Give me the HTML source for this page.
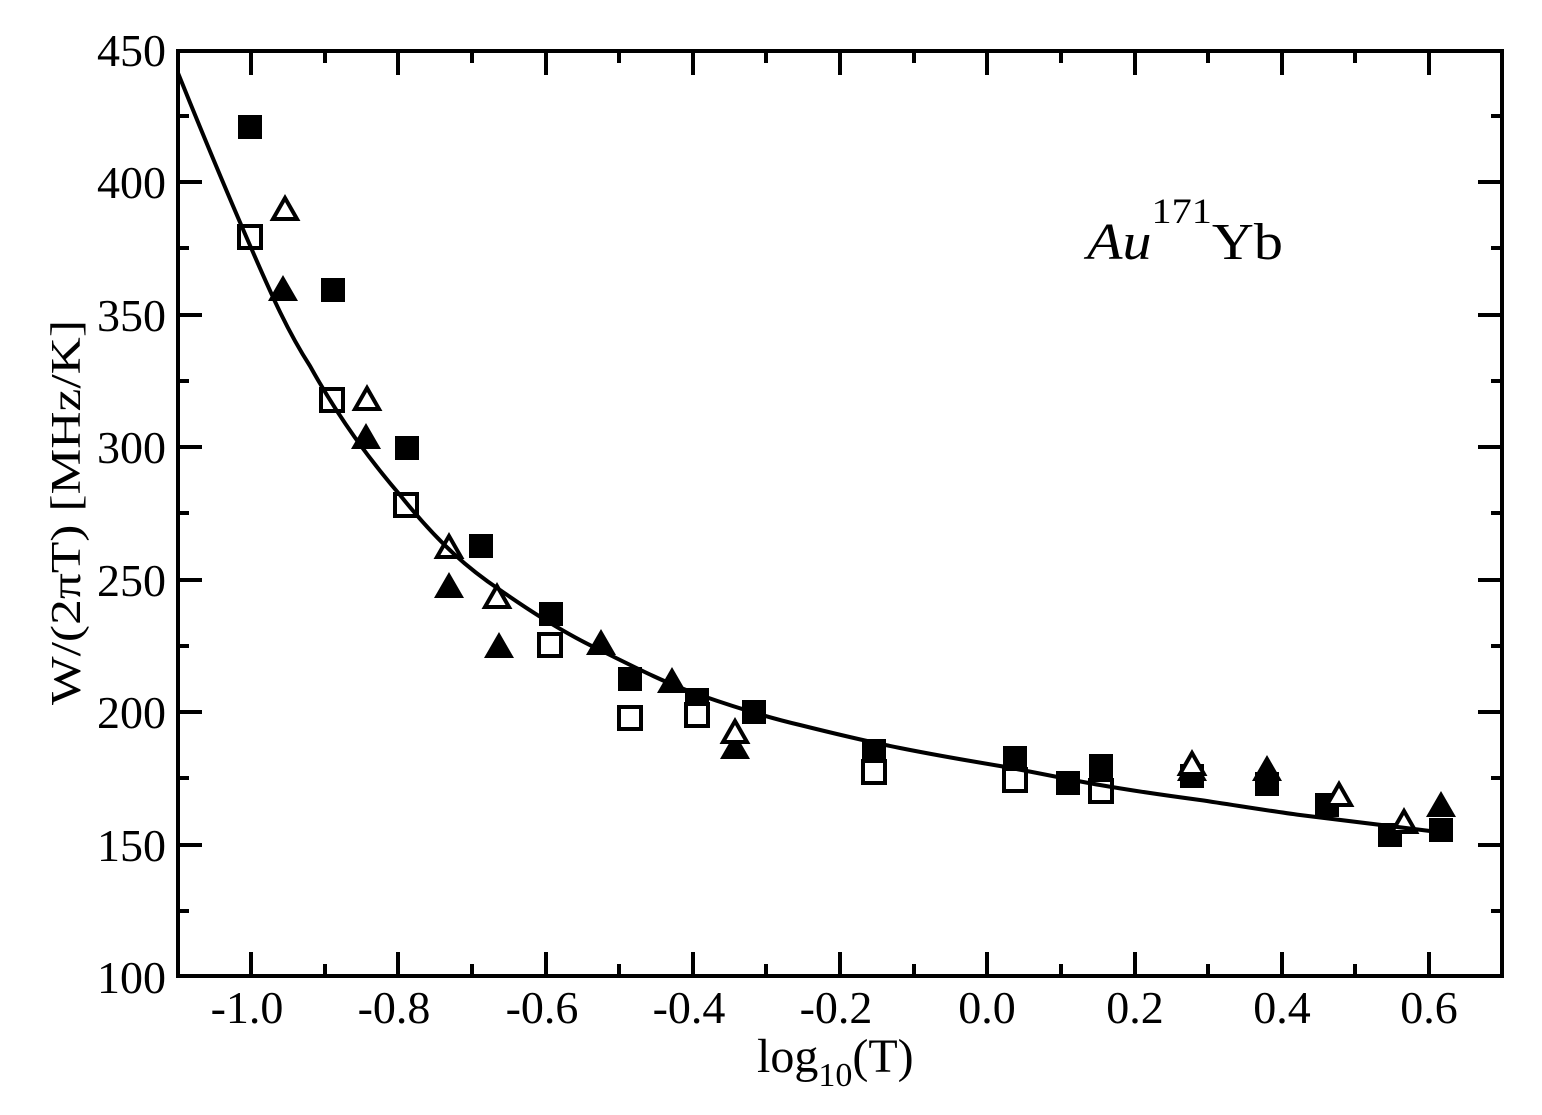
<!DOCTYPE html>
<html><head><meta charset="utf-8"><style>html,body{margin:0;padding:0;background:#fff}svg{display:block}</style></head>
<body>
<svg width="1542" height="1115" viewBox="0 0 1542 1115" xmlns="http://www.w3.org/2000/svg" font-family="Liberation Serif, serif">
<defs>
<rect id="fs" x="-12" y="-12" width="24" height="24" fill="#000"/>
<rect id="os" x="-11" y="-11" width="22" height="22" fill="#fff" stroke="#000" stroke-width="4"/>
<polygon id="ft" points="0,-15 15,11 -15,11" fill="#000"/>
<polygon id="ot" points="0,-12 12,9 -12,9" fill="#fff" stroke="#000" stroke-width="4"/>
</defs>
<g stroke="#000" stroke-width="4" fill="none">
<rect x="178" y="51" width="1324" height="925"/>
</g>
<g stroke="#000" stroke-width="4">
<path d="M251 976v-24M398 976v-24M546 976v-24M693 976v-24M840 976v-24M987 976v-24M1135 976v-24M1282 976v-24M1429 976v-24
M251 51v24M398 51v24M546 51v24M693 51v24M840 51v24M987 51v24M1135 51v24M1282 51v24M1429 51v24"/>
<path d="M325 976v-12M472 976v-12M619 976v-12M766 976v-12M914 976v-12M1061 976v-12M1208 976v-12M1355 976v-12
M325 51v12M472 51v12M619 51v12M766 51v12M914 51v12M1061 51v12M1208 51v12M1355 51v12"/>
<path d="M178 182h24M178 315h24M178 447h24M178 580h24M178 712h24M178 845h24
M1502 182h-24M1502 315h-24M1502 447h-24M1502 580h-24M1502 712h-24M1502 845h-24"/>
<path d="M178 116h11M178 248h11M178 381h11M178 513h11M178 646h11M178 778h11M178 911h11
M1502 116h-11M1502 248h-11M1502 381h-11M1502 513h-11M1502 646h-11M1502 778h-11M1502 911h-11"/>
</g>
<g font-size="46" text-anchor="end" fill="#000">
<text x="166" y="66">450</text><text x="166" y="198">400</text><text x="166" y="331">350</text>
<text x="166" y="463">300</text><text x="166" y="596">250</text><text x="166" y="728">200</text>
<text x="166" y="861">150</text><text x="166" y="993">100</text>
</g>
<g font-size="46" text-anchor="middle" fill="#000">
<text x="247" y="1023">-1.0</text><text x="394" y="1023">-0.8</text><text x="542" y="1023">-0.6</text>
<text x="689" y="1023">-0.4</text><text x="836" y="1023">-0.2</text><text x="987" y="1023">0.0</text>
<text x="1135" y="1023">0.2</text><text x="1282" y="1023">0.4</text><text x="1429" y="1023">0.6</text>
</g>
<text x="757" y="1072" font-size="48" fill="#000">log<tspan font-size="34" dy="14">10</tspan><tspan dy="-14">(T)</tspan></text>
<text transform="translate(80,705) rotate(-90)" font-size="42" textLength="385" lengthAdjust="spacingAndGlyphs" fill="#000">W/(2πT) [MHz/K]</text>
<text x="1087" y="259" font-size="52" fill="#000" textLength="196" lengthAdjust="spacingAndGlyphs"><tspan font-style="italic">Au</tspan><tspan font-size="36" dy="-36">171</tspan><tspan dy="36">Yb</tspan></text>
<g>
<use href="#fs" x="250" y="127"/><use href="#fs" x="333" y="290"/><use href="#fs" x="407" y="448"/>
<use href="#fs" x="481" y="546"/><use href="#fs" x="551" y="614"/><use href="#fs" x="630" y="679"/>
<use href="#fs" x="697" y="700"/><use href="#fs" x="754" y="712"/><use href="#fs" x="874" y="751"/>
<use href="#fs" x="1015" y="758"/><use href="#fs" x="1068" y="783"/><use href="#fs" x="1101" y="766"/>
<use href="#fs" x="1192" y="776"/><use href="#fs" x="1267" y="784"/><use href="#fs" x="1327" y="805"/>
<use href="#fs" x="1390" y="835"/><use href="#fs" x="1441" y="830"/>
</g>
<g>
<use href="#ft" x="283" y="290"/><use href="#ft" x="366" y="438"/><use href="#ft" x="449" y="587"/>
<use href="#ft" x="499" y="647"/><use href="#ft" x="601" y="644"/><use href="#ft" x="672" y="682"/>
<use href="#ft" x="735" y="748"/><use href="#ft" x="1192" y="770"/><use href="#ft" x="1267" y="770"/>
<use href="#ft" x="1441" y="806"/>
</g>
<g>
<use href="#os" x="250" y="237"/><use href="#os" x="332" y="400"/><use href="#os" x="406" y="505"/>
<use href="#os" x="550" y="645"/><use href="#os" x="630" y="718"/><use href="#os" x="697" y="715"/>
<use href="#os" x="874" y="772"/><use href="#os" x="1015" y="780"/><use href="#os" x="1101" y="791"/>
</g>
<g>
<use href="#ot" x="285" y="210"/><use href="#ot" x="367" y="400"/><use href="#ot" x="449" y="548"/>
<use href="#ot" x="497" y="598"/><use href="#ot" x="735" y="733"/><use href="#ot" x="1192" y="765"/>
<use href="#ot" x="1339" y="796"/><use href="#ot" x="1404" y="823"/>
</g>
<path d="M178 73 C205 140 228 195 252 250 C272 296 288 332 310 366 C340 420 370 460 400 495 C440 545 470 570 500 590 C540 618 570 636 600 650 C640 670 670 685 700 695 C740 709 770 718 800 725 C840 735 870 742 900 748 C940 756 970 761 1000 766 C1040 773 1070 780 1100 785 C1140 792 1170 796 1200 800 C1240 806 1270 811 1300 815 C1350 821 1390 826 1430 831" fill="none" stroke="#000" stroke-width="4"/>
</svg>
</body></html>
